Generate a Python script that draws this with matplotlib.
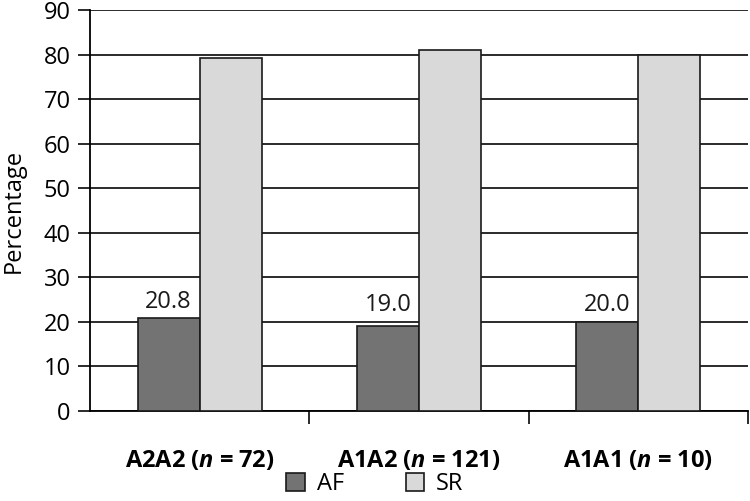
import matplotlib
matplotlib.use("Agg")
import matplotlib.pyplot as plt
import numpy as np

# datos
grupos = ["A2A2", "A1A2", "A1A1"]
n_grupo = [72, 121, 10]
af = [20.8, 19.0, 20.0]
sr = [79.2, 81.0, 80.0]
etiquetas_af = ["20.8", "19.0", "20.0"]

plt.rcParams['font.family'] = ['Open Sans', 'DejaVu Sans']
plt.rcParams['mathtext.fontset'] = 'custom'
plt.rcParams['mathtext.it'] = 'Open Sans:italic:bold'

fig = plt.figure(figsize=(7.5, 5.01), dpi=100)
ax = fig.add_axes([90/750, 1-411/501, 658/750, 401/501])

x = np.arange(len(grupos))
w = 0.283
ax.bar(x - w/2, af, w, color='#737373', edgecolor='#1a1a1a', linewidth=1.2, zorder=3, label='AF')
ax.bar(x + w/2, sr, w, color='#d9d9d9', edgecolor='#1a1a1a', linewidth=1.2, zorder=3, label='SR')

# etiquetas sobre las barras AF (por encima de la linea de 20 si la barra queda debajo)
for i in range(len(grupos)):
    ax.annotate(etiquetas_af[i], (x[i] - w/2, max(af[i], 20)), xytext=(0, 7.5),
                textcoords='offset points', ha='center', va='baseline', fontsize=17,
                color='#1a1a1a', zorder=4)

ax.set_xlim(-0.5, 2.5)
ax.set_ylim(0, 90)
ax.set_yticks(np.arange(0, 91, 10))
ax.yaxis.grid(True, color='#1a1a1a', linewidth=1.3, zorder=0)
ax.set_axisbelow(True)

ax.set_xticks([0.5, 1.5, 2.5])
ax.set_xticklabels([])
ax.set_xticks(x, minor=True)
ax.set_xticklabels([g + " ($\\it{n}$ = " + str(n) + ")" for g, n in zip(grupos, n_grupo)],
                   minor=True, fontsize=17, fontweight='bold')
ax.tick_params(axis='x', which='major', length=9, width=1.3, color='#1a1a1a')
ax.tick_params(axis='x', which='minor', length=0, pad=27)
ax.tick_params(axis='y', length=9, width=1.3, labelsize=17, color='#1a1a1a', pad=5)

ax.spines['top'].set_visible(False)
ax.spines['right'].set_visible(False)
ax.spines['left'].set_linewidth(1.3)
ax.spines['bottom'].set_linewidth(1.3)

ax.set_ylabel('Percentage', fontsize=17, labelpad=13)

fig.legend(loc='center', bbox_to_anchor=(375/750, 1-484/501), ncol=2, frameon=False,
           fontsize=17, handlelength=0.8, handleheight=0.8, columnspacing=2.6, handletextpad=0.5)

fig.savefig('out.png', dpi=100)
